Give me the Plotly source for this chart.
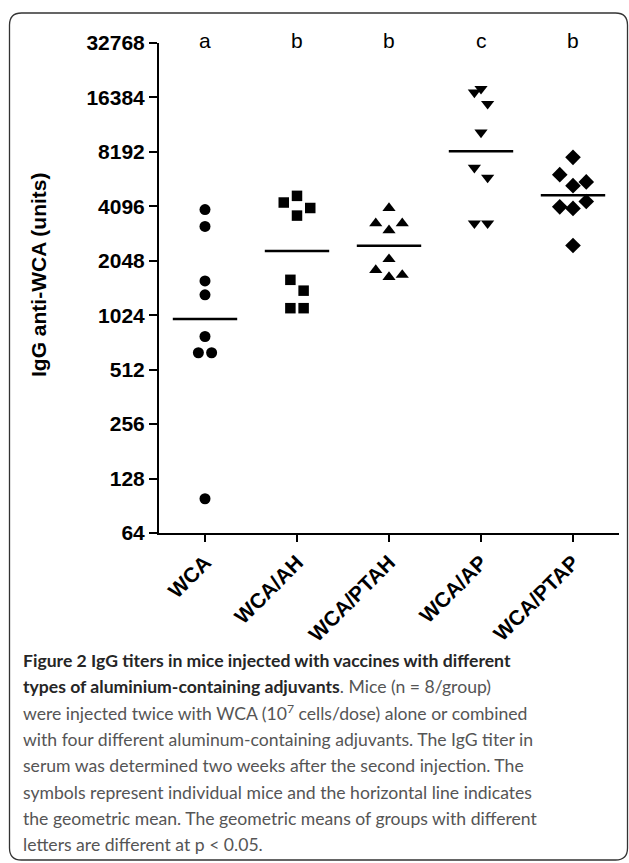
import numpy as np
import plotly.graph_objects as go

# ---------------- data ----------------
categories = ["WCA", "WCA/AH", "WCA/PTAH", "WCA/AP", "WCA/PTAP"]
letters = ["a", "b", "b", "c", "b"]
wca = [3930, 3170, 1585, 1328, 781, 635, 635, 99]
wca_ah = [4680, 4300, 4010, 3640, 1607, 1400, 1120, 1120]
wca_ptah = [4010, 3300, 3300, 3020, 2090, 1820, 1665, 1710]
wca_ap = [18300, 17450, 15100, 10500, 6700, 5910, 3300, 3300]
wca_ptap = [7640, 6130, 5330, 5590, 4360, 4070, 3990, 2490]
y_ticks = [64, 128, 256, 512, 1024, 2048, 4096, 8192, 16384, 32768]

groups = [wca, wca_ah, wca_ptah, wca_ap, wca_ptap]

# ---------------- layout / style ----------------
W, H = 629, 863
ML, MR, MT, MB = 159, 10, 43, 330
PW, PH = W - ML - MR, H - MT - MB

# horizontal slot of every point in its column (column-scatter spreading)
slots = [
    [0, 0, 0, 0, 0, -1, 1, 0],
    [0, -2, 2, 0, -1, 1, -1, 1],
    [0, -2, 2, 0, 0, -2, 0, 2],
    [0, -1, 1, 0, -1, 1, -1, 1],
    [0, -2, 0, 2, 2, -2, 0, 0],
]
slot_unit = 0.072
half_line = 0.35
symbols = ["circle", "square", "triangle-up", "triangle-down", "diamond"]
sizes = [11, 10.5, 11.5, 11.5, 12]

FAM = "Liberation Sans, Arial, sans-serif"
BOLD = dict(family=FAM, size=21, color="black", weight="bold")


def px_x(x):
    return (x - ML) / PW


def px_y(y):
    return (H - MB - y) / PH


fig = go.Figure()

for i, vals in enumerate(groups):
    xs = [i + s * slot_unit for s in slots[i]]
    fig.add_trace(go.Scatter(
        x=xs, y=vals, mode="markers",
        marker=dict(symbol=symbols[i], size=sizes[i], color="black", line=dict(width=0)),
        showlegend=False, hoverinfo="y"))
    gm = float(np.exp(np.mean(np.log(vals))))
    fig.add_trace(go.Scatter(
        x=[i - half_line, i + half_line], y=[gm, gm], mode="lines",
        line=dict(color="black", width=2.5), showlegend=False, hoverinfo="skip"))

annotations = []
for i, lt in enumerate(letters):
    annotations.append(dict(
        x=i, xref="x", y=1, yref="paper", yanchor="middle", yshift=3,
        text=lt, showarrow=False,
        font=dict(family=FAM, size=21, color="black")))

annotations.append(dict(
    x=px_x(38), xref="paper", y=px_y(275), yref="paper", textangle=-90,
    text="IgG anti-WCA (units)", showarrow=False, font=BOLD,
    xanchor="center", yanchor="middle"))

DK = '<span style="color:#262626">'
caption = [
    f"{DK}<b>Figure 2 IgG titers in mice injected with vaccines with different</b></span>",
    f"{DK}<b>types of aluminium-containing adjuvants</b></span>. Mice (n = 8/group)",
    "were injected twice with WCA (10<sup>7</sup> cells/dose) alone or combined",
    "with four different aluminum-containing adjuvants. The IgG titer in",
    "serum was determined two weeks after the second injection. The",
    "symbols represent individual mice and the horizontal line indicates",
    "the geometric mean. The geometric means of groups with different",
    "letters are different at p &lt; 0.05.",
]
cap_y0, cap_dy = 660, 26.4
for k, line in enumerate(caption):
    annotations.append(dict(
        x=px_x(21), xref="paper", y=px_y(cap_y0 + k * cap_dy), yref="paper",
        xanchor="left", yanchor="middle", text=line, showarrow=False,
        font=dict(family="Lato, sans-serif", size=17.6, color="#555555")))

# rounded frame
x0, x1, y0, y1, r = px_x(9.5), px_x(627.5), px_y(13), px_y(860), 12
rx, ry = r / PW, r / PH
path = (f"M {x0+rx},{y0} L {x1-rx},{y0} Q {x1},{y0} {x1},{y0-ry} "
        f"L {x1},{y1+ry} Q {x1},{y1} {x1-rx},{y1} L {x0+rx},{y1} "
        f"Q {x0},{y1} {x0},{y1+ry} L {x0},{y0-ry} Q {x0},{y0} {x0+rx},{y0} Z")

fig.update_layout(
    width=W, height=H, margin=dict(l=ML, r=MR, t=MT, b=MB),
    paper_bgcolor="white", plot_bgcolor="white",
    annotations=annotations,
    shapes=[dict(type="path", path=path, xref="paper", yref="paper",
                 line=dict(color="#333333", width=1.3), layer="below")],
    xaxis=dict(range=[-0.5, 4.5], tickvals=list(range(len(categories))), ticktext=categories,
               tickangle=-45, tickfont=dict(family=FAM, size=21, color="black", weight="bold"),
               showline=True, linecolor="black", linewidth=2, ticks="outside", ticklen=7,
               tickwidth=2, tickcolor="black", showgrid=False, zeroline=False),
    yaxis=dict(type="log", range=[np.log10(64), np.log10(32768)], tickvals=y_ticks,
               ticktext=[str(t) for t in y_ticks], tickfont=BOLD,
               showline=True, linecolor="black", linewidth=2, ticks="outside", ticklen=8,
               tickwidth=2, tickcolor="black", showgrid=False, zeroline=False),
)

fig.write_html("out.html", config={"displayModeBar": False},
               post_script="document.body.style.margin='0px';")
